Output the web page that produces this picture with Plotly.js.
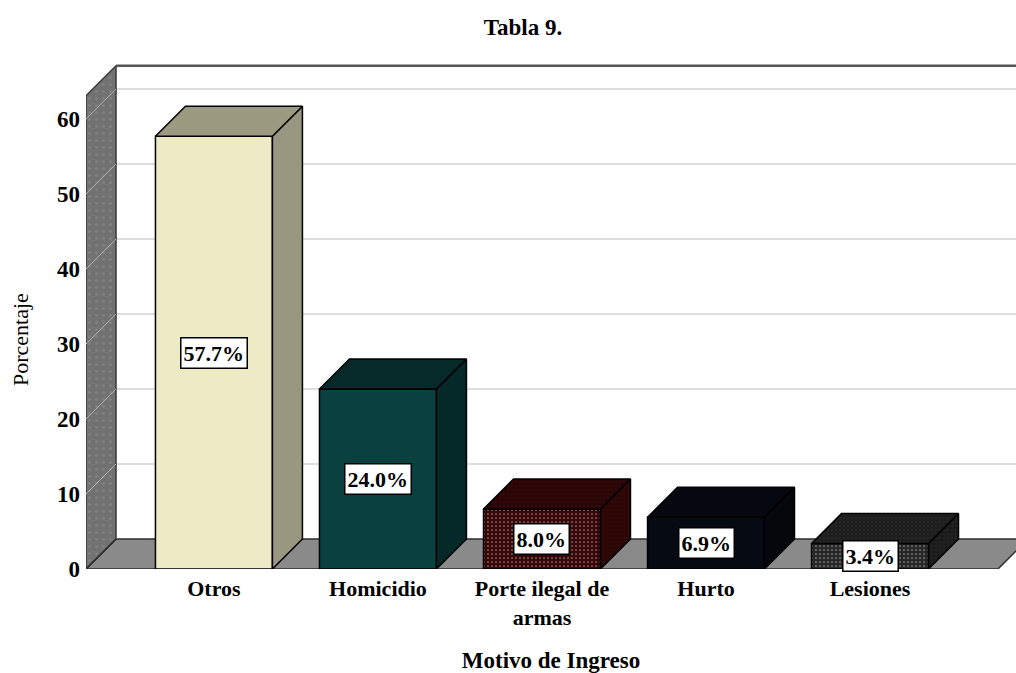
<!DOCTYPE html>
<html>
<head>
<meta charset="utf-8">
<script src="https://cdn.plot.ly/plotly-3.0.1.min.js"></script>
<style>
  html, body { margin: 0; padding: 0; background: #ffffff; }
  #chart { width: 1016px; height: 673px; }
</style>
</head>
<body>
<div id="chart"></div>
<script>
// ---- data ----
const categories = ['Otros', 'Homicidio', 'Porte ilegal de<br>armas', 'Hurto', 'Lesiones'];
const values = [57.7, 24.0, 8.0, 6.9, 3.4];
const valueLabels = ['57.7%', '24.0%', '8.0%', '6.9%', '3.4%'];
const yTicks = [0, 10, 20, 30, 40, 50, 60];
const gridValues = [10, 20, 30, 40, 50, 60];
const frontColors = ['#efeac6', '#0a4040', '#380707', '#060a12', '#282828'];
const topColors = ['#9c9a80', '#062a2a', '#2a0505', '#05080f', '#1e1e1e'];
const sideColors = ['#999780', '#052828', '#2c0505', '#05070d', '#1b1b1b'];
const dotShapes = ['', '', '.', '', '.'];
const dotColors = ['#efeac6', '#0a4040', '#521212', '#0e2226', '#3e3e3e'];

// ---- 3D geometry (in axis units) ----
const DX = 0.183, DY = 4.0, BAR_W = 0.713;
const X_LEFT = -0.78, X_RIGHT = 4.78, X_MAX = 4.89, WALL_H = 63.1, Y_MAX = 67.87;
const SERIF = 'Liberation Serif, Times New Roman, serif';

function pathOf(xs, ys) {
  return xs.map((x, k) => (k === 0 ? 'M' : 'L') + x + ',' + ys[k]).join(' ') + ' Z';
}

// structure drawn beneath the bars
const shapes = [];
gridValues.forEach(v => shapes.push({
  type: 'line', xref: 'x', yref: 'y', layer: 'below',
  x0: X_LEFT + DX, x1: X_MAX + 1, y0: v + DY, y1: v + DY,
  line: { color: '#d2d2d2', width: 1.5 }
}));
shapes.push({
  type: 'path', xref: 'x', yref: 'y', layer: 'below',
  path: pathOf([X_LEFT, X_RIGHT, X_RIGHT + DX, X_LEFT + DX], [0, 0, DY, DY]),
  fillcolor: '#8a8a8a', line: { color: '#2e2e2e', width: 1.5 }
});

const traces = [];
function poly(xs, ys, fill, line, extra) {
  return Object.assign({
    type: 'scatter', mode: 'lines', x: xs, y: ys, fill: 'toself',
    fillcolor: fill, line: { color: line, width: 1.5 },
    hoverinfo: 'skip', showlegend: false
  }, extra || {});
}

// bar front faces
traces.push({
  type: 'bar', x: [0, 1, 2, 3, 4], y: values, width: BAR_W,
  marker: {
    color: frontColors, line: { color: '#000000', width: 1.5 },
    pattern: { shape: dotShapes, fgcolor: dotColors, fgopacity: 0.5, size: 4, solidity: 0.15, fillmode: 'overlay' }
  },
  hoverinfo: 'skip', showlegend: false
});

// left wall
traces.push(poly([X_LEFT, X_LEFT + DX, X_LEFT + DX, X_LEFT, X_LEFT],
                 [0, DY, WALL_H + DY, WALL_H, 0], '#727272', '#3a3a3a',
  { fillpattern: { shape: '.', fgcolor: '#949494', size: 7, solidity: 0.12, fillmode: 'overlay' } }));

// wall grid diagonals
const wx = [], wy = [];
gridValues.forEach(v => { wx.push(X_LEFT, X_LEFT + DX, null); wy.push(v, v + DY, null); });
traces.push({ type: 'scatter', mode: 'lines', x: wx, y: wy, line: { color: '#b0b0b0', width: 1 },
  hoverinfo: 'skip', showlegend: false });
// floor seam on the wall
traces.push({ type: 'scatter', mode: 'lines', x: [X_LEFT, X_LEFT + DX], y: [0, DY],
  line: { color: '#2e2e2e', width: 1.5 }, hoverinfo: 'skip', showlegend: false });

// back wall top edge
traces.push({ type: 'scatter', mode: 'lines', x: [X_LEFT + DX, X_MAX + 1], y: [WALL_H + DY, WALL_H + DY],
  line: { color: '#555555', width: 2.5 }, hoverinfo: 'skip', showlegend: false });

// bar top and side faces
values.forEach((v, i) => {
  const xl = i - BAR_W / 2, xr = i + BAR_W / 2;
  const pat = dotShapes[i] ? { shape: '.', fgcolor: dotColors[i], fgopacity: 0.5, size: 4, solidity: 0.15, fillmode: 'overlay' } : undefined;
  traces.push(poly([xr, xr + DX, xr + DX, xr, xr], [0, DY, v + DY, v, 0], sideColors[i], '#000000',
    pat ? { fillpattern: pat } : {}));
  traces.push(poly([xl, xl + DX, xr + DX, xr, xl], [v, v + DY, v + DY, v, v], topColors[i], '#000000',
    pat ? { fillpattern: pat } : {}));
});

const annotations = values.map((v, i) => ({
  x: i, y: v / 2, xref: 'x', yref: 'y', text: valueLabels[i], showarrow: false,
  bgcolor: '#ffffff', bordercolor: '#000000', borderwidth: 1.5, borderpad: 2,
  font: { family: SERIF, size: 22, color: '#000000', weight: 'bold' }
}));
// y-axis title, placed where the reference shows it
annotations.push({
  text: 'Porcentaje', xref: 'paper', yref: 'paper',
  x: (21 - 86) / 930, y: (569 - 340) / 509, xanchor: 'center', yanchor: 'middle',
  textangle: -90, showarrow: false,
  font: { family: SERIF, size: 22, color: '#000000' }
});

const layout = {
  width: 1016, height: 673,
  margin: { l: 86, r: 0, t: 60, b: 104 },
  paper_bgcolor: '#ffffff', plot_bgcolor: '#ffffff',
  showlegend: false,
  bargap: 0,
  title: { text: 'Tabla 9.', x: 523 / 1016, xref: 'container', xanchor: 'center',
           y: 1 - 27 / 673, yref: 'container', yanchor: 'middle',
           font: { family: SERIF, size: 23, color: '#000000', weight: 'bold' } },
  xaxis: {
    range: [X_LEFT, X_MAX], tickvals: [0, 1, 2, 3, 4], ticktext: categories,
    ticks: '', showgrid: false, zeroline: false, showline: false, ticklabelstandoff: 4,
    tickfont: { family: SERIF, size: 22, color: '#000000', weight: 'bold' },
    title: { text: 'Motivo de Ingreso', standoff: 26,
             font: { family: SERIF, size: 23, color: '#000000', weight: 'bold' } }
  },
  yaxis: {
    range: [0, Y_MAX], tickvals: yTicks, ticktext: yTicks.map(String),
    ticks: '', showgrid: false, zeroline: false, showline: false, ticklabelstandoff: 5,
    tickfont: { family: SERIF, size: 23, color: '#000000', weight: 'bold' }
  },
  shapes: shapes,
  annotations: annotations
};

Plotly.newPlot('chart', traces, layout, { staticPlot: true, displayModeBar: false });
</script>
</body>
</html>
